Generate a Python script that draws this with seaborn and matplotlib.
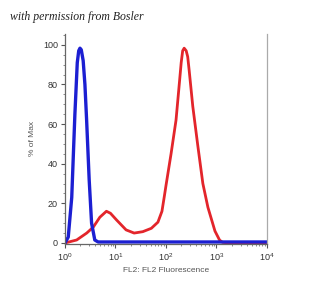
import numpy as np
import pandas as pd
import matplotlib
matplotlib.use("Agg")
import matplotlib.pyplot as plt
import seaborn as sns
from matplotlib.ticker import LogLocator, MultipleLocator

# Data (fluorescence value, % of Max)
blue_x = [1.0, 1.16, 1.36, 1.57, 1.75, 1.87, 1.98, 2.10, 2.29, 2.48, 2.68, 3.01,
          3.36, 3.89, 4.53, 10000]
blue_y = [0, 3, 23, 65, 91, 97, 98.3, 97.5, 92, 80, 62, 32,
          10, 1.5, 0.5, 0.5]

red_x = [1.0, 1.07, 1.70, 2.69, 3.63, 4.90, 6.61, 7.94, 10.5, 16.2, 23.4, 34.7,
         51.3, 69.2, 83.2, 93.3, 100, 126, 158, 186, 200, 214, 229, 251, 269,
         288, 339, 427, 537, 676, 933, 1148, 1318, 1778, 10000]
red_y = [0, 0.2, 1.5, 5, 8, 13, 16, 15, 11.6, 6.6, 5, 5.7,
         7.4, 10.5, 16, 24, 29, 45, 62, 82, 91, 97, 98.3, 97, 94,
         87, 69, 49, 30, 18, 6, 1.5, 0.3, 0, 0]

x_ticks = [1, 10, 100, 1000, 10000]
x_tick_labels = ["$10^0$", "$10^1$", "$10^2$", "$10^3$", "$10^4$"]
y_ticks = [0, 20, 40, 60, 80, 100]

sns.set_style("white")
plt.rcParams['font.family'] = ['Liberation Sans', 'DejaVu Sans']
plt.rcParams['mathtext.fontset'] = 'custom'
plt.rcParams['mathtext.rm'] = 'Liberation Sans'
plt.rcParams['mathtext.it'] = 'Liberation Sans'

fig = plt.figure(figsize=(3.25, 2.85), dpi=100)
ax = fig.add_axes([0.2, 0.144, 0.6215, 0.737])

red_df = pd.DataFrame({"x": red_x, "y": red_y})
blue_df = pd.DataFrame({"x": blue_x, "y": blue_y})
sns.lineplot(data=red_df, x="x", y="y", ax=ax, color="#e3252b", lw=2.0,
             sort=False, estimator=None)
sns.lineplot(data=blue_df, x="x", y="y", ax=ax, color="#1c1fd2", lw=2.4,
             sort=False, estimator=None)

ax.set_xscale("log")
ax.set_xlim(1, 10000)
ax.set_ylim(-0.5, 105.5)
ax.set_xticks(x_ticks)
ax.set_xticklabels(x_tick_labels)
ax.xaxis.set_minor_locator(LogLocator(base=10, subs=np.arange(2, 10)))
ax.set_yticks(y_ticks)
ax.yaxis.set_minor_locator(MultipleLocator(5))

ax.tick_params(axis="both", which="major", direction="out", length=3, width=0.8,
               color="#555555", labelsize=6.5, labelcolor="#333333", pad=2,
               bottom=True, left=True)
ax.tick_params(axis="both", which="minor", direction="out", length=1.5, width=0.6,
               color="#777777", bottom=True, left=True)

for s in ["left", "bottom"]:
    ax.spines[s].set_color("#666666")
    ax.spines[s].set_linewidth(0.9)
ax.spines["right"].set_color("#aaaaaa")
ax.spines["right"].set_linewidth(0.9)
ax.spines["top"].set_visible(False)

ax.set_xlabel("FL2: FL2 Fluorescence", fontsize=6, color="#555555", labelpad=3)
ax.set_ylabel("% of Max", fontsize=6, color="#555555", labelpad=5)

fig.text(0.03, 0.94, "with permission from Bosler", fontsize=8.5,
         style="italic", family=["Liberation Serif", "DejaVu Serif"],
         color="#222222", va="center", ha="left")

fig.savefig("out.png", dpi=100, facecolor="white")
